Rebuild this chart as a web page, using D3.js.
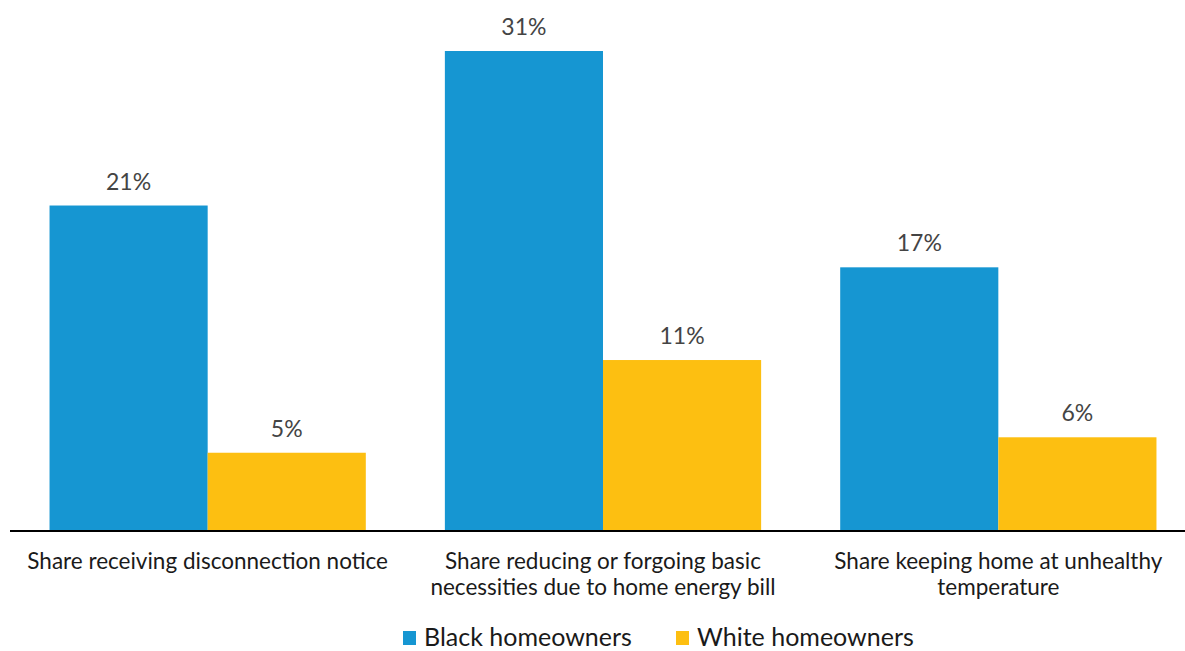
<!DOCTYPE html>
<html>
<head>
<meta charset="utf-8">
<script src="https://cdn.jsdelivr.net/npm/d3@7"></script>
<style>
  html, body { margin: 0; padding: 0; background: #fff; }
  svg { display: block; font-family: Lato, "Noto Sans", sans-serif; }
</style>
</head>
<body>
<svg id="chart" width="1185" height="651"></svg>
<script>
// Energy hardship among homeowners, by race
const categories = [
  ["Share receiving disconnection notice"],
  ["Share reducing or forgoing basic", "necessities due to home energy bill"],
  ["Share keeping home at unhealthy", "temperature"]
];
const seriesNames = ["Black homeowners", "White homeowners"];
const blackValues = [21, 31, 17];
const whiteValues = [5, 11, 6];
const colors = ["#1696d2", "#fdbf11"];

const svg = d3.select("#chart");
const baseY = 530;

const x0 = d3.scaleBand()
  .domain(d3.range(categories.length))
  .range([10, 1196])
  .paddingInner(0.2)
  .paddingOuter(0.1);

const x1 = d3.scaleBand()
  .domain(d3.range(seriesNames.length))
  .range([0, x0.bandwidth()]);

const y = d3.scaleLinear()
  .domain([0, d3.max(blackValues.concat(whiteValues))])
  .range([baseY, 51]);

const rows = categories.map((c, i) => ({
  i, values: [blackValues[i], whiteValues[i]]
}));

const groups = svg.append("g").selectAll("g")
  .data(rows)
  .join("g")
  .attr("transform", d => `translate(${x0(d.i)},0)`);

groups.selectAll("rect")
  .data(d => d.values.map((v, s) => ({ v, s })))
  .join("rect")
  .attr("x", d => x1(d.s))
  .attr("y", d => y(d.v))
  .attr("width", x1.bandwidth())
  .attr("height", d => baseY - y(d.v))
  .attr("fill", d => colors[d.s]);

groups.selectAll("text.val")
  .data(d => d.values.map((v, s) => ({ v, s })))
  .join("text")
  .attr("class", "val")
  .attr("x", d => x1(d.s) + x1.bandwidth() / 2)
  .attr("y", d => y(d.v) - 16)
  .attr("text-anchor", "middle")
  .attr("font-size", 23)
  .attr("fill", "#444")
  .text(d => d.v + "%");

// Baseline axis
const xAxis = d3.axisBottom(x0).tickSize(0).tickFormat("");
const axisG = svg.append("g")
  .attr("transform", `translate(0,${baseY + 1})`)
  .call(xAxis);
axisG.select(".domain")
  .attr("d", "M10,0H1185")
  .attr("stroke", "#000")
  .attr("stroke-width", 2);

// Category labels
const catG = svg.append("g").selectAll("text")
  .data(categories)
  .join("text")
  .attr("x", (d, i) => x0(i) + x0.bandwidth() / 2)
  .attr("y", 569)
  .attr("text-anchor", "middle")
  .attr("font-size", 22.5)
  .attr("fill", "#1a1a1a");
catG.selectAll("tspan")
  .data(d => d)
  .join("tspan")
  .attr("x", function () { return d3.select(this.parentNode).attr("x"); })
  .attr("dy", (d, j) => j === 0 ? 0 : 26)
  .text(d => d);

// Legend
const legendX = [403, 676];
const legend = svg.append("g").selectAll("g")
  .data(seriesNames)
  .join("g")
  .attr("transform", (d, i) => `translate(${legendX[i]},631)`);
legend.append("rect")
  .attr("width", 13)
  .attr("height", 14)
  .attr("fill", (d, i) => colors[i]);
legend.append("text")
  .attr("x", 21)
  .attr("y", 15)
  .attr("font-size", 25)
  .attr("fill", "#1a1a1a")
  .text(d => d);
</script>
</body>
</html>
